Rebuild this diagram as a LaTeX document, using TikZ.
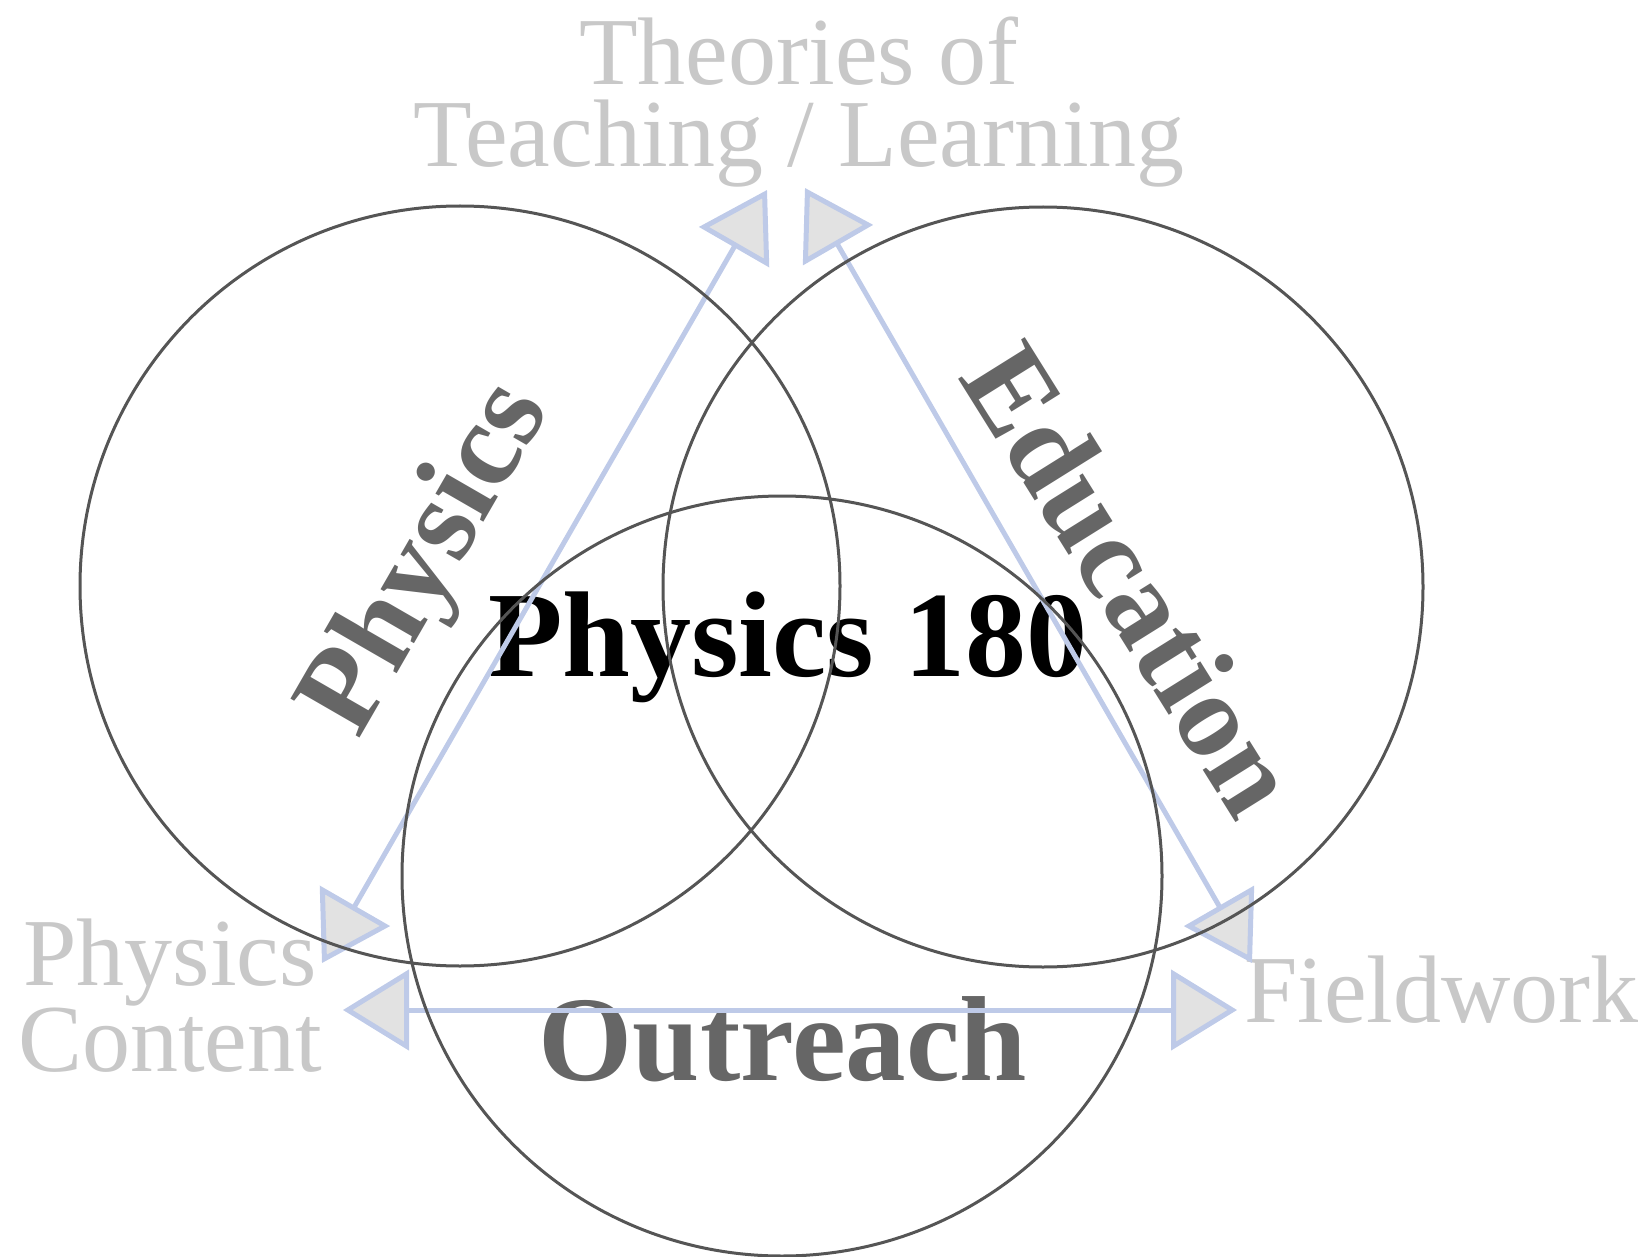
\documentclass[tikz,border=0pt]{standalone}
\usepackage{fontspec}
\setmainfont{Liberation Serif}
\usetikzlibrary{arrows.meta}

\definecolor{ringline}{RGB}{85,85,85}
\definecolor{fieldgray}{RGB}{102,102,102}
\definecolor{notegray}{RGB}{200,200,200}
\definecolor{linkblue}{RGB}{190,202,232}
\definecolor{tipfill}{RGB}{226,226,226}

\tikzset{
  ring/.style={draw=ringline, line width=3pt, circle, minimum size=760pt, inner sep=0pt},
  field/.style={text=fieldgray, font=\fontsize{120}{120}\selectfont\bfseries, inner sep=0pt},
  note/.style={text=notegray, font=\fontsize{96}{82}\selectfont, inner sep=0pt, align=center},
  link/.style={draw=linkblue, line width=5pt,
    {Triangle[length=66pt,width=80pt,fill=tipfill]}-{Triangle[length=66pt,width=80pt,fill=tipfill]}},
}

\begin{document}
\begin{tikzpicture}[x=1pt, y=-1pt]
  \useasboundingbox (0,0) rectangle (1644,1257);
  % grey labels at the corners
  \node[note, anchor=north] (theory) at (799,17) {Theories of\\Teaching / Learning};
  \node[note, anchor=north] (content) at (170,919) {Physics\\Content};
  \node[note, anchor=base west] (fieldwork) at (1244,1022) {Fieldwork};
  % the three fields and the course
  \node[field, rotate=60, font=\fontsize{121}{121}\selectfont\bfseries] (phys) at (429,560) {Physics};
  \node[field, rotate=-58] (educ) at (1132,579) {Education};
  \node[field, anchor=base, font=\fontsize{121}{121}\selectfont\bfseries] (outr) at (783,1080) {Outreach};
  \node[field, text=black, anchor=base, font=\fontsize{122}{122}\selectfont\bfseries] (course) at (788,676) {Physics 180};
  % triangle of arrows
  \coordinate (topL) at (767,190);
  \coordinate (topR) at (805,188);
  \coordinate (leftT) at (322,963);
  \coordinate (leftB) at (343,1010);
  \coordinate (rightT) at (1252,963);
  \coordinate (rightB) at (1237,1010);
  \draw[link] (leftT) -- (topL);
  \draw[link] (topR) -- (rightT);
  \draw[link] (leftB) -- (rightB);
  % circles
  \node[ring] (physring) at (460,586) {};
  \node[ring] (educring) at (1043,587) {};
  \node[ring] (outrring) at (782,876) {};
\end{tikzpicture}
\end{document}
